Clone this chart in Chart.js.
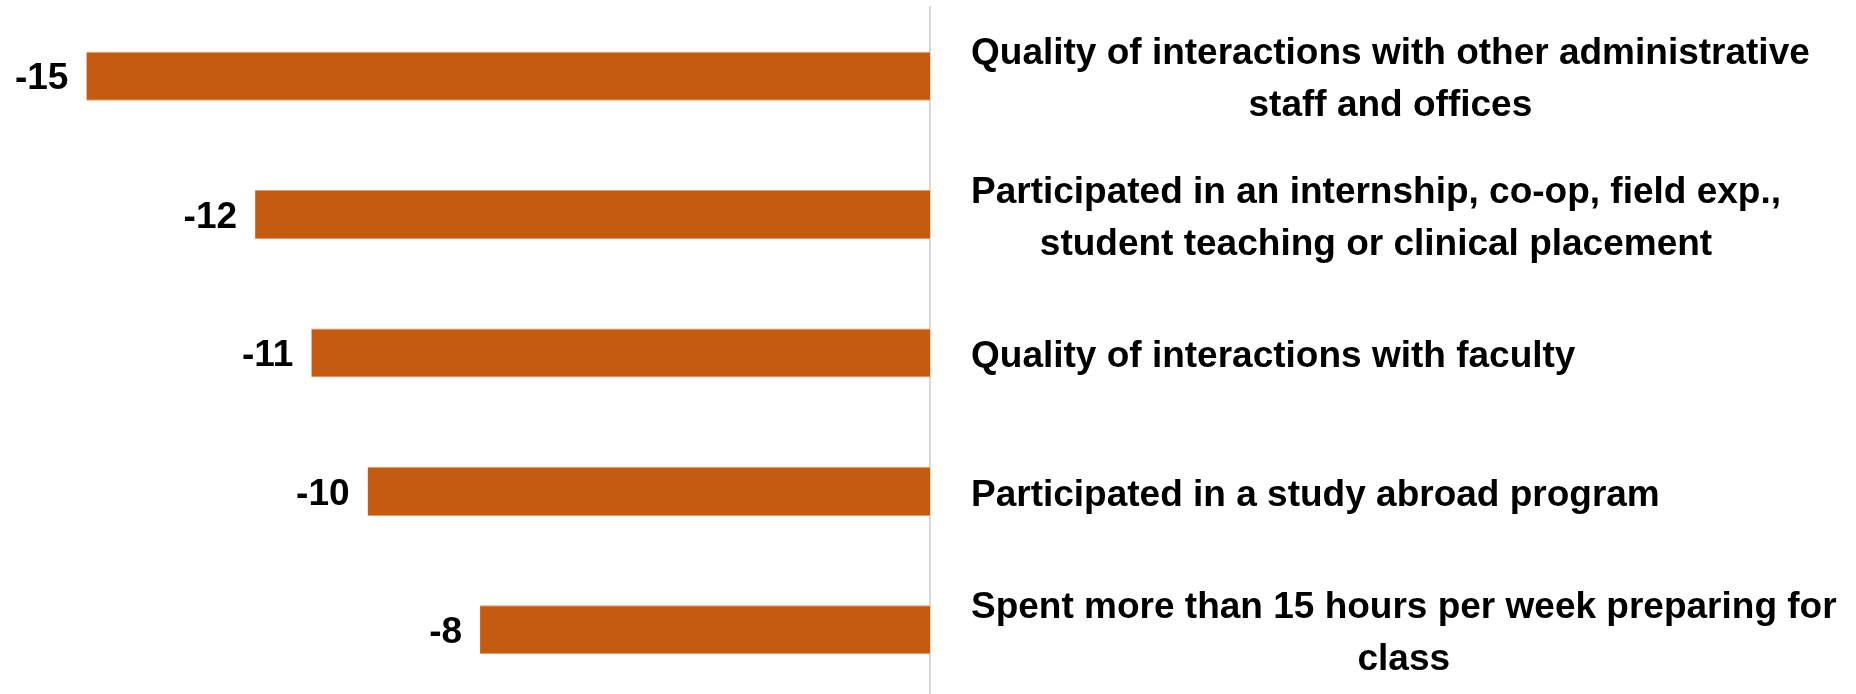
<!DOCTYPE html>
<html lang="en">
<head>
  <meta charset="UTF-8">
  <title>Difference by item</title>
  <script src="https://cdn.jsdelivr.net/npm/chart.js"></script>
  <style>
    html, body { margin: 0; padding: 0; background: #fff; overflow: hidden; }
    #wrap { width: 1856px; height: 699px; }
  </style>
</head>
<body>
  <div id="wrap"><canvas id="chart"></canvas></div>
  <script>
    // category labels (each one split in lines like the original)
    const categories = [
      ['Quality of interactions with other administrative', 'staff and offices'],
      ['Participated in an internship, co-op, field exp.,', 'student teaching or clinical placement'],
      ['Quality of interactions with faculty'],
      ['Participated in a study abroad program'],
      ['Spent more than 15 hours per week preparing for', 'class']
    ]
    const values = [-15, -12, -11, -10, -8]

    const barColor = '#C55A11'
    const fontFamily = '"Liberation Sans Narrow", "Liberation Sans", Arial, sans-serif'
    const fontSize = 37
    const lineH = 52

    // draws value labels left of the bars and category labels right of the zero line
    const labelPlugin = {
      id: 'labels',
      afterDatasetsDraw(chart) {
        const ctx = chart.ctx
        const meta = chart.getDatasetMeta(0)
        const yScale = chart.scales.y
        const xScale = chart.scales.x
        ctx.save()
        ctx.fillStyle = '#000'
        ctx.font = `bold ${fontSize}px ${fontFamily}`
        ctx.textBaseline = 'middle'

        meta.data.forEach((bar, i) => {
          ctx.textAlign = 'right'
          ctx.fillText(String(values[i]), bar.x - 18, bar.y + 3)
        })

        const left = xScale.getPixelForValue(0) + 41
        categories.forEach((lines, i) => {
          const yc = yScale.getPixelForValue(i) + 4
          let maxW = 0
          lines.forEach(l => { maxW = Math.max(maxW, ctx.measureText(l).width) })
          const cx = left + maxW / 2
          ctx.textAlign = 'center'
          lines.forEach((l, k) => {
            const y = yc + (k - (lines.length - 1) / 2) * lineH
            ctx.fillText(l, cx, y)
          })
        })
        ctx.restore()
      }
    }

    new Chart(document.getElementById('chart'), {
      type: 'bar',
      data: {
        labels: categories,
        datasets: [{
          data: values,
          backgroundColor: barColor,
          borderColor: '#E49A63',
          borderWidth: { top: 1, bottom: 1, left: 0, right: 0 },
          borderSkipped: false,
          categoryPercentage: 1,
          barPercentage: 0.355
        }]
      },
      options: {
        indexAxis: 'y',
        responsive: true,
        maintainAspectRatio: false,
        animation: false,
        layout: { padding: { top: 7, bottom: 0, left: 2, right: 926 } },
        plugins: {
          legend: { display: false },
          tooltip: { enabled: false }
        },
        scales: {
          x: {
            min: -16.5,
            max: 0,
            display: false
          },
          y: {
            position: 'right',
            ticks: { display: false },
            grid: { display: false, drawTicks: false },
            border: { display: true, color: '#d9d9d9', width: 2 }
          }
        }
      },
      plugins: [labelPlugin]
    })
  </script>
</body>
</html>
